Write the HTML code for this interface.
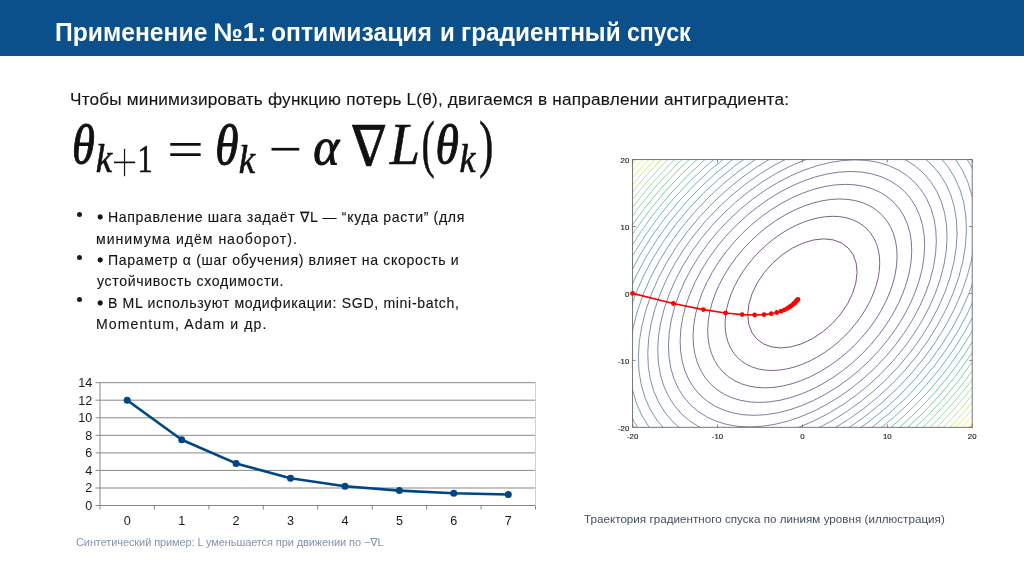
<!DOCTYPE html>
<html lang="ru">
<head>
<meta charset="utf-8">
<title>Применение №1: оптимизация и градиентный спуск</title>
<style>
  html, body { margin: 0; padding: 0; }
  body {
    width: 1024px; height: 576px; overflow: hidden; position: relative;
    background: #ffffff;
    font-family: "Liberation Sans", "DejaVu Sans", sans-serif;
    color: #1c1c1c;
  }
  body > * { will-change: transform; }
  .abs { position: absolute; white-space: nowrap; line-height: 1; margin: 0; padding: 0; }
  header {
    position: absolute; left: 0; top: 0; width: 1024px; height: 55.8px;
    background: #0c508b;
  }
  header h1 {
    position: absolute; left: 0; top: 0; margin: 0; white-space: pre;
    font-weight: bold; line-height: 1; color: #ffffff; font-size: 25.5px;
  }
  header h1 span { position: absolute; white-space: pre; }
  #tw1 { left:54.80px; top:19.61px; font-size:25.5px; transform-origin:0 0; transform:scaleX(0.9677); } #tw2 { left:213.40px; top:19.61px; font-size:25.5px; transform-origin:0 0; transform:scaleX(1.0448); } #tw3 { left:271.40px; top:19.61px; font-size:25.5px; transform-origin:0 0; transform:scaleX(0.9661); }
  #tw4 { left:440.20px; top:19.61px; font-size:25.5px; transform-origin:0 0; transform:scaleX(0.9434); } #tw5 { left:461.00px; top:19.61px; font-size:25.5px; transform-origin:0 0; transform:scaleX(0.9547); } #tw6 { left:627.40px; top:19.61px; font-size:25.5px; transform-origin:0 0; transform:scaleX(0.9076); }
  #intro { left:69.60px; top:90.64px; font-size:17.2px; letter-spacing:0.193px; color: #141414; -webkit-text-stroke: 0.12px #141414; }
  ul#bullets { position: absolute; left: 0; top: 0; margin: 0; padding: 0; list-style: none; }
  ul#bullets li { position: absolute; left: 0; top: 0; }
  ul#bullets li::before {
    content: ""; position: absolute; left: 76.9px; width: 5px; height: 5px;
    border-radius: 50%; background: #1c1c1c;
  }
  #b1::before { top: 211.5px; } #b2::before { top: 254.6px; } #b3::before { top: 297.3px; }
  ul#bullets li span.ln { position: absolute; white-space: nowrap; line-height: 1; }
  #b1l1 { left:97.80px; top:210.46px; font-size:14.1px; letter-spacing:0.654px; } #b1l2 { left:96.00px; top:231.81px; font-size:14.1px; letter-spacing:0.960px; }
  #b2l1 { left:97.80px; top:253.16px; font-size:14.1px; letter-spacing:0.655px; } #b2l2 { left:97.00px; top:274.36px; font-size:14.1px; letter-spacing:0.655px; }
  #b3l1 { left:97.80px; top:295.76px; font-size:14.1px; letter-spacing:0.659px; } #b3l2 { left:96.00px; top:316.86px; font-size:14.1px; letter-spacing:1.068px; }
  .ib { -webkit-text-stroke: 1.3px #141414; }
  ul#bullets { color: #141414; -webkit-text-stroke: 0.12px #141414; }
  .nab { font-family: "DejaVu Sans", sans-serif; }
  #cap1 { color: #8593ab; left:76.20px; top:537.29px; font-size:11.0px; letter-spacing:-0.099px; }
  #cap2 { color: #434e60; left:584.00px; top:512.68px; font-size:11.6px; letter-spacing:0.037px; }
  svg { position: absolute; left: 0; top: 0; overflow: visible; }
  svg .sans text { font-family: "Liberation Sans", "DejaVu Sans", sans-serif; }
</style>
</head>
<body>

<header>
  <h1 id="title"><span id="tw1">Применение</span> <span id="tw2">№1:</span> <span id="tw3">оптимизация</span> <span id="tw4">и</span> <span id="tw5">градиентный</span> <span id="tw6">спуск</span></h1>
</header>

<p class="abs" id="intro">Чтобы минимизировать функцию потерь L(θ), двигаемся в направлении антиградиента:</p>

<!-- formula -->
<svg id="formula" width="1024" height="576" viewBox="0 0 1024 576" aria-label="formula">
  <g fill="#111">
    <text transform="translate(72.05 163.15) scale(0.4646 0.5598)" style="font-family:'Liberation Serif', 'DejaVu Serif', serif;font-style:italic;font-weight:normal;font-size:100px;stroke:#111;stroke-width:1.8px;stroke-linejoin:round">θ</text>
    <text transform="translate(95.63 172.38) scale(0.3680 0.4015)" style="font-family:'Liberation Serif', 'DejaVu Serif', serif;font-style:italic;font-weight:normal;font-size:100px;stroke:#111;stroke-width:1.6px;stroke-linejoin:round">k</text>
    <text transform="translate(111.08 183.20) scale(0.4805 0.6174)" style="font-family:'Liberation Serif', 'DejaVu Serif', serif;font-style:normal;font-weight:normal;font-size:100px;stroke:#fff;stroke-width:2.2px">+</text>
    <text transform="translate(137.47 172.38) scale(0.3043 0.3949)" style="font-family:'Liberation Serif', 'DejaVu Serif', serif;font-style:normal;font-weight:normal;font-size:100px;stroke:#111;stroke-width:1.6px;stroke-linejoin:round">1</text>
    <text transform="translate(167.05 167.05) scale(0.6533 0.5240)" style="font-family:'Liberation Serif', 'DejaVu Serif', serif;font-style:normal;font-weight:normal;font-size:100px">=</text>
    <text transform="translate(215.21 163.54) scale(0.4737 0.5653)" style="font-family:'Liberation Serif', 'DejaVu Serif', serif;font-style:italic;font-weight:normal;font-size:100px;stroke:#111;stroke-width:1.8px;stroke-linejoin:round">θ</text>
    <text transform="translate(238.83 172.77) scale(0.3680 0.4071)" style="font-family:'Liberation Serif', 'DejaVu Serif', serif;font-style:italic;font-weight:normal;font-size:100px;stroke:#111;stroke-width:1.6px;stroke-linejoin:round">k</text>
    <text transform="translate(268.62 167.25) scale(0.5974 0.5421)" style="font-family:'Liberation Serif', 'DejaVu Serif', serif;font-style:normal;font-weight:normal;font-size:100px">−</text>
    <text transform="translate(313.37 163.90) scale(0.4965 0.5201)" style="font-family:'Liberation Serif', 'DejaVu Serif', serif;font-style:italic;font-weight:normal;font-size:100px;stroke:#111;stroke-width:1.8px;stroke-linejoin:round">α</text>
    <text transform="translate(386.47 165.56) scale(-0.5137 0.5614)" style="font-family:'DejaVu Serif', serif;font-style:normal;font-weight:normal;font-size:100px;stroke:#111;stroke-width:1.2px;stroke-linejoin:round">∇</text>
    <text transform="translate(389.73 163.73) scale(0.5448 0.5981)" style="font-family:'Liberation Serif', 'DejaVu Serif', serif;font-style:italic;font-weight:normal;font-size:100px;stroke:#111;stroke-width:0.9px;stroke-linejoin:round">L</text>
    <text transform="translate(421.40 164.83) scale(0.4002 0.6395)" style="font-family:'Liberation Serif', 'DejaVu Serif', serif;font-style:normal;font-weight:normal;font-size:100px;stroke:#111;stroke-width:0.8px;stroke-linejoin:round">(</text>
    <text transform="translate(435.40 162.96) scale(0.4760 0.5543)" style="font-family:'Liberation Serif', 'DejaVu Serif', serif;font-style:italic;font-weight:normal;font-size:100px;stroke:#111;stroke-width:1.8px;stroke-linejoin:round">θ</text>
    <text transform="translate(459.55 172.38) scale(0.3590 0.3973)" style="font-family:'Liberation Serif', 'DejaVu Serif', serif;font-style:italic;font-weight:normal;font-size:100px;stroke:#111;stroke-width:1.6px;stroke-linejoin:round">k</text>
    <text transform="translate(478.97 164.83) scale(0.4342 0.6395)" style="font-family:'Liberation Serif', 'DejaVu Serif', serif;font-style:normal;font-weight:normal;font-size:100px;stroke:#111;stroke-width:0.8px;stroke-linejoin:round">)</text>
  </g>
</svg>

<ul id="bullets">
  <li id="b1"><span class="ln" id="b1l1"><span class="ib">•</span> Направление шага задаёт <span class="nab">∇</span>L — “куда расти” (для</span>
      <span class="ln" id="b1l2">минимума идём наоборот).</span></li>
  <li id="b2"><span class="ln" id="b2l1"><span class="ib">•</span> Параметр α (шаг обучения) влияет на скорость и</span>
      <span class="ln" id="b2l2">устойчивость сходимости.</span></li>
  <li id="b3"><span class="ln" id="b3l1"><span class="ib">•</span> В ML используют модификации: SGD, mini-batch,</span>
      <span class="ln" id="b3l2">Momentum, Adam и др.</span></li>
</ul>

<!-- line chart -->
<svg id="linechart" width="1024" height="576" viewBox="0 0 1024 576">
  <g stroke="#888888" stroke-width="1" fill="none">
    <path d="M95.5 505.5 H535.5"/>
<path d="M95.5 488.0 H535.5"/>
<path d="M95.5 470.4 H535.5"/>
<path d="M95.5 452.9 H535.5"/>
<path d="M95.5 435.3 H535.5"/>
<path d="M95.5 417.8 H535.5"/>
<path d="M95.5 400.2 H535.5"/>
<path d="M95.5 382.7 H535.5"/>
    <path d="M100.0 505.5 v4"/>
<path d="M154.4 505.5 v4"/>
<path d="M208.9 505.5 v4"/>
<path d="M263.3 505.5 v4"/>
<path d="M317.8 505.5 v4"/>
<path d="M372.2 505.5 v4"/>
<path d="M426.6 505.5 v4"/>
<path d="M481.1 505.5 v4"/>
<path d="M535.5 505.5 v4"/>
    <path d="M100 382.7 V505.5"/>
  </g>
  <path d="M535.5 382.7 V505.5" stroke="#d0d0d0" stroke-width="1" fill="none"/>
  <polyline points="127.2,400.2 181.7,439.7 236.1,463.4 290.5,478.3 345.0,486.2 399.4,490.6 453.8,493.2 508.3,494.5" fill="none" stroke="#004586" stroke-width="2.6" stroke-linejoin="round"/>
  <g fill="#004586">
    <circle cx="127.2" cy="400.2" r="3.5"/>
<circle cx="181.7" cy="439.7" r="3.5"/>
<circle cx="236.1" cy="463.4" r="3.5"/>
<circle cx="290.5" cy="478.3" r="3.5"/>
<circle cx="345.0" cy="486.2" r="3.5"/>
<circle cx="399.4" cy="490.6" r="3.5"/>
<circle cx="453.8" cy="493.2" r="3.5"/>
<circle cx="508.3" cy="494.5" r="3.5"/>
  </g>
  <g class="sans" font-size="12.6" fill="#1a1a1a">
    <text x="92.3" y="509.9" text-anchor="end">0</text>
<text x="92.3" y="492.4" text-anchor="end">2</text>
<text x="92.3" y="474.8" text-anchor="end">4</text>
<text x="92.3" y="457.3" text-anchor="end">6</text>
<text x="92.3" y="439.7" text-anchor="end">8</text>
<text x="92.3" y="422.2" text-anchor="end">10</text>
<text x="92.3" y="404.6" text-anchor="end">12</text>
<text x="92.3" y="387.1" text-anchor="end">14</text>
    <text x="127.2 " y="524.6" text-anchor="middle">0</text>
<text x="181.7 " y="524.6" text-anchor="middle">1</text>
<text x="236.1 " y="524.6" text-anchor="middle">2</text>
<text x="290.5 " y="524.6" text-anchor="middle">3</text>
<text x="345.0 " y="524.6" text-anchor="middle">4</text>
<text x="399.4 " y="524.6" text-anchor="middle">5</text>
<text x="453.8 " y="524.6" text-anchor="middle">6</text>
<text x="508.3 " y="524.6" text-anchor="middle">7</text>
  </g>
</svg>
<p class="abs" id="cap1">Синтетический пример: L уменьшается при движении по −<span class="nab">∇</span>L</p>

<!-- contour plot -->
<svg id="contour" width="1024" height="576" viewBox="0 0 1024 576">
  <defs><clipPath id="fr"><rect x="632.6" y="159.6" width="339.6" height="267.7"/></clipPath></defs>
  <g clip-path="url(#fr)">
    <g transform="translate(802.4 293.4) rotate(-44.79)" fill="none" stroke-width="0.8" opacity="0.82">
      <ellipse rx="64.50" ry="42.46" stroke="#3f104a" stroke-opacity="1.00"/>
<ellipse rx="91.21" ry="60.05" stroke="#401a54" stroke-opacity="0.99"/>
<ellipse rx="111.71" ry="73.54" stroke="#41245e" stroke-opacity="0.98"/>
<ellipse rx="128.99" ry="84.92" stroke="#412e66" stroke-opacity="0.97"/>
<ellipse rx="144.22" ry="94.94" stroke="#3f376c" stroke-opacity="0.96"/>
<ellipse rx="157.98" ry="104.00" stroke="#3c4172" stroke-opacity="0.95"/>
<ellipse rx="170.64" ry="112.34" stroke="#394a74" stroke-opacity="0.94"/>
<ellipse rx="182.42" ry="120.09" stroke="#355377" stroke-opacity="0.93"/>
<ellipse rx="193.49" ry="127.38" stroke="#315b79" stroke-opacity="0.92"/>
<ellipse rx="203.96" ry="134.27" stroke="#2e647a" stroke-opacity="0.91"/>
<ellipse rx="213.91" ry="140.82" stroke="#2a6d7b" stroke-opacity="0.90"/>
<ellipse rx="223.42" ry="147.09" stroke="#27767c" stroke-opacity="0.89"/>
<ellipse rx="232.55" ry="153.09" stroke="#247f7c" stroke-opacity="0.88"/>
<ellipse rx="241.33" ry="158.87" stroke="#24887a" stroke-opacity="0.86"/>
<ellipse rx="249.80" ry="164.45" stroke="#249178" stroke-opacity="0.85"/>
<ellipse rx="257.99" ry="169.84" stroke="#2b9b74" stroke-opacity="0.84"/>
<ellipse rx="265.93" ry="175.07" stroke="#37a46e" stroke-opacity="0.83"/>
<ellipse rx="273.64" ry="180.14" stroke="#44ae67" stroke-opacity="0.82"/>
<ellipse rx="281.14" ry="185.08" stroke="#59b75c" stroke-opacity="0.81"/>
<ellipse rx="288.44" ry="189.89" stroke="#6fc050" stroke-opacity="0.80"/>
<ellipse rx="295.56" ry="194.58" stroke="#88c841" stroke-opacity="0.79"/>
<ellipse rx="302.52" ry="199.15" stroke="#a4d031" stroke-opacity="0.78"/>
<ellipse rx="309.32" ry="203.63" stroke="#c0d726" stroke-opacity="0.77"/>
<ellipse rx="315.97" ry="208.01" stroke="#ddde26" stroke-opacity="0.76"/>
<ellipse rx="322.48" ry="212.30" stroke="#fde725" stroke-opacity="0.75"/>
    </g>
  </g>
  <rect x="632.6" y="159.6" width="339.6" height="267.7" fill="none" stroke="#666" stroke-width="0.9"/>
  <g stroke="#666" stroke-width="0.8" fill="none">
    <path d="M632.6 427.3 v-3 M632.6 159.6 v3 M632.6 427.3 h3 M972.2 427.3 h-3"/>
<path d="M717.5 427.3 v-3 M717.5 159.6 v3 M632.6 360.4 h3 M972.2 360.4 h-3"/>
<path d="M802.4 427.3 v-3 M802.4 159.6 v3 M632.6 293.4 h3 M972.2 293.4 h-3"/>
<path d="M887.3 427.3 v-3 M887.3 159.6 v3 M632.6 226.5 h3 M972.2 226.5 h-3"/>
<path d="M972.2 427.3 v-3 M972.2 159.6 v3 M632.6 159.6 h3 M972.2 159.6 h-3"/>
  </g>
  <polyline points="632.6,293.4 673.4,303.5 703.4,309.6 725.6,313.0 742.2,314.6 754.6,315.0 764.0,314.6 771.2,313.7 776.8,312.5 781.1,311.2 784.5,309.8 787.3,308.4 789.5,307.0 791.3,305.8 792.8,304.6 794.0,303.5 795.1,302.5 796.0,301.5 796.8,300.7 797.4,300.0 798.0,299.3" fill="none" stroke="#f00" stroke-width="1.6"/>
  <g fill="#f00">
    <circle cx="632.6" cy="293.4" r="2.4"/>
<circle cx="673.4" cy="303.5" r="2.4"/>
<circle cx="703.4" cy="309.6" r="2.4"/>
<circle cx="725.6" cy="313.0" r="2.4"/>
<circle cx="742.2" cy="314.6" r="2.4"/>
<circle cx="754.6" cy="315.0" r="2.4"/>
<circle cx="764.0" cy="314.6" r="2.4"/>
<circle cx="771.2" cy="313.7" r="2.4"/>
<circle cx="776.8" cy="312.5" r="2.4"/>
<circle cx="781.1" cy="311.2" r="2.4"/>
<circle cx="784.5" cy="309.8" r="2.4"/>
<circle cx="787.3" cy="308.4" r="2.4"/>
<circle cx="789.5" cy="307.0" r="2.4"/>
<circle cx="791.3" cy="305.8" r="2.4"/>
<circle cx="792.8" cy="304.6" r="2.4"/>
<circle cx="794.0" cy="303.5" r="2.4"/>
<circle cx="795.1" cy="302.5" r="2.4"/>
<circle cx="796.0" cy="301.5" r="2.4"/>
<circle cx="796.8" cy="300.7" r="2.4"/>
<circle cx="797.4" cy="300.0" r="2.4"/>
<circle cx="798.0" cy="299.3" r="2.4"/>
  </g>
  <g class="sans" font-size="7.8" fill="#222" stroke="#222" stroke-width="0.15">
    <text x="632.6" y="438.7" text-anchor="middle">-20</text>
<text x="717.5" y="438.7" text-anchor="middle">-10</text>
<text x="802.4" y="438.7" text-anchor="middle">0</text>
<text x="887.3" y="438.7" text-anchor="middle">10</text>
<text x="972.2" y="438.7" text-anchor="middle">20</text>
    <text x="629.3" y="430.9" text-anchor="end">-20</text>
<text x="629.3" y="364.0" text-anchor="end">-10</text>
<text x="629.3" y="297.1" text-anchor="end">0</text>
<text x="629.3" y="230.1" text-anchor="end">10</text>
<text x="629.3" y="163.2" text-anchor="end">20</text>
  </g>
</svg>
<p class="abs" id="cap2">Траектория градиентного спуска по линиям уровня (иллюстрация)</p>

</body>
</html>
